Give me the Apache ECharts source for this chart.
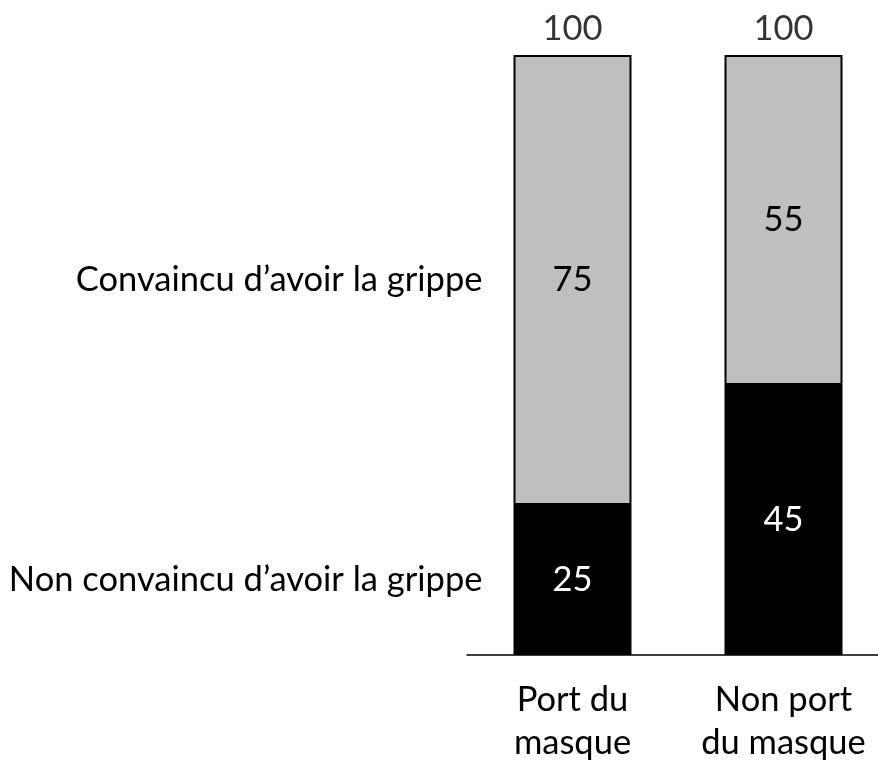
<!DOCTYPE html>
<html>
<head>
<meta charset="utf-8">
<script src="https://cdn.jsdelivr.net/npm/echarts@6/dist/echarts.min.js"></script>
<style>
html, body { margin: 0; padding: 0; background: #fff; }
#chart { width: 878px; height: 762px; }
</style>
</head>
<body>
<div id="chart"></div>
<script>
var categories = ['Port du\nmasque', 'Non port\ndu masque'];
var seriesNames = ['Non convaincu d\u2019avoir la grippe', 'Convaincu d\u2019avoir la grippe'];
var nonConvaincu = [25, 45];
var convaincu = [75, 55];
var totals = [100, 100];

var FONT = 'Lato';
var SIZE = 34.5;
var myChart = echarts.init(document.getElementById('chart'));

var option = {
    animation: false,
    backgroundColor: '#fff',
    textStyle: { fontFamily: FONT },
    grid: {
        left: 467,
        top: 55,
        right: -11,
        bottom: 107,
        outerBoundsMode: 'none'
    },
    xAxis: {
        type: 'category',
        data: categories,
        axisLine: { lineStyle: { color: '#000', width: 1.5 } },
        axisTick: { show: false },
        axisLabel: {
            color: '#000',
            fontSize: SIZE,
            fontFamily: FONT,
            lineHeight: 43,
            margin: 23,
            interval: 0,
            hideOverlap: false
        }
    },
    yAxis: {
        type: 'value',
        min: 0,
        max: 100,
        show: false
    },
    series: [
        {
            name: seriesNames[0],
            type: 'bar',
            stack: 'total',
            barWidth: 118,
            data: nonConvaincu,
            itemStyle: { color: '#000', borderColor: '#000', borderWidth: 2 },
            label: { show: true, position: 'inside', color: '#fff', fontSize: SIZE, fontFamily: FONT }
        },
        {
            name: seriesNames[1],
            type: 'bar',
            stack: 'total',
            barWidth: 118,
            data: convaincu,
            itemStyle: { color: '#bfbfbf', borderColor: '#000', borderWidth: 2 },
            label: { show: true, position: 'inside', color: '#000', fontSize: SIZE, fontFamily: FONT }
        },
        {
            name: 'total',
            type: 'scatter',
            data: totals,
            symbolSize: 0,
            silent: true,
            label: {
                show: true,
                position: 'top',
                distance: 9,
                color: '#000',
                fontSize: SIZE,
                fontFamily: FONT
            }
        }
    ]
};
myChart.setOption(option);

// series names written at the left of the first bar, level with each segment
var barLeft = myChart.convertToPixel({ gridIndex: 0 }, [0, 0])[0] - 59;
var lower = myChart.convertToPixel({ gridIndex: 0 }, [0, nonConvaincu[0] / 2])[1];
var upper = myChart.convertToPixel({ gridIndex: 0 }, [0, nonConvaincu[0] + convaincu[0] / 2])[1];
myChart.setOption({
    graphic: [
        {
            type: 'text',
            x: barLeft - 31,
            y: upper,
            style: { text: seriesNames[1], fill: '#000', font: SIZE + 'px ' + FONT, align: 'right', verticalAlign: 'middle' }
        },
        {
            type: 'text',
            x: barLeft - 31,
            y: lower,
            style: { text: seriesNames[0], fill: '#000', font: SIZE + 'px ' + FONT, align: 'right', verticalAlign: 'middle' }
        }
    ]
});
</script>
</body>
</html>
